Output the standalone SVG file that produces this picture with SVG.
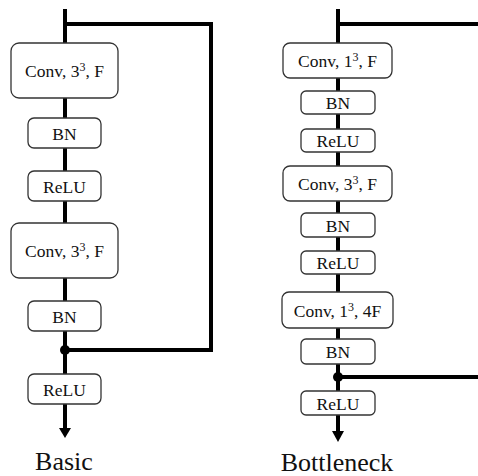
<svg xmlns="http://www.w3.org/2000/svg" width="478" height="476" viewBox="0 0 478 476">
<style>
.box{fill:#fff;stroke:#333;stroke-width:1.3}
.wire{fill:none;stroke:#000;stroke-width:4}
.lbl{font-family:"Liberation Serif","Times New Roman",serif;font-size:17.5px;fill:#111;text-anchor:middle}
.title{font-family:"Liberation Serif","Times New Roman",serif;font-size:26px;fill:#111;text-anchor:middle}
.sup{font-size:12px}
</style>
<rect width="478" height="476" fill="#fff"/>
<g id="connectors">
  <path class="wire" d="M65,9 V431"/>
  <path class="wire" d="M65,24 H211 V350 H65"/>
  <polygon points="59,428 71,428 65,438" fill="#000"/>
  <circle cx="65" cy="350" r="5" fill="#000"/>
  <path class="wire" d="M338,9 V433"/>
  <path class="wire" d="M338,24 H480"/>
  <path class="wire" d="M338,377 H480"/>
  <polygon points="332,431 344,431 338,442" fill="#000"/>
  <circle cx="338" cy="377" r="5" fill="#000"/>
</g>
<g id="basic-conv1"><rect class="box" x="11" y="43" width="107" height="55" rx="8"/><text class="lbl" x="64.5" y="77">Conv, 3<tspan class="sup" dy="-6">3</tspan><tspan dy="6">, F</tspan></text></g>
<g id="basic-bn1"><rect class="box" x="28" y="118" width="73" height="30" rx="6"/><text class="lbl" x="64.5" y="139.5">BN</text></g>
<g id="basic-relu1"><rect class="box" x="28" y="171" width="73" height="30" rx="6"/><text class="lbl" x="64.5" y="192.5">ReLU</text></g>
<g id="basic-conv2"><rect class="box" x="11" y="223" width="107" height="55" rx="8"/><text class="lbl" x="64.5" y="257">Conv, 3<tspan class="sup" dy="-6">3</tspan><tspan dy="6">, F</tspan></text></g>
<g id="basic-bn2"><rect class="box" x="28" y="301" width="73" height="30" rx="6"/><text class="lbl" x="64.5" y="322.5">BN</text></g>
<g id="basic-relu2"><rect class="box" x="28" y="374" width="73" height="30" rx="6"/><text class="lbl" x="64.5" y="395.5">ReLU</text></g>
<g id="basic-title"><text class="title" x="64" y="470">Basic</text></g>

<g id="bn-conv1"><rect class="box" x="283" y="43" width="109" height="35" rx="7"/><text class="lbl" x="337.5" y="67">Conv, 1<tspan class="sup" dy="-6">3</tspan><tspan dy="6">, F</tspan></text></g>
<g id="bn-bn1"><rect class="box" x="301" y="91" width="74" height="23" rx="5"/><text class="lbl" x="338" y="108.5">BN</text></g>
<g id="bn-relu1"><rect class="box" x="301" y="129" width="74" height="23" rx="5"/><text class="lbl" x="338" y="146.5">ReLU</text></g>
<g id="bn-conv2"><rect class="box" x="283" y="166" width="109" height="35" rx="7"/><text class="lbl" x="337.5" y="190">Conv, 3<tspan class="sup" dy="-6">3</tspan><tspan dy="6">, F</tspan></text></g>
<g id="bn-bn2"><rect class="box" x="301" y="213" width="74" height="24" rx="5"/><text class="lbl" x="338" y="231.5">BN</text></g>
<g id="bn-relu2"><rect class="box" x="301" y="251" width="74" height="23" rx="5"/><text class="lbl" x="338" y="268.5">ReLU</text></g>
<g id="bn-conv3"><rect class="box" x="282" y="292" width="111" height="36" rx="7"/><text class="lbl" x="337.5" y="316.5">Conv, 1<tspan class="sup" dy="-6">3</tspan><tspan dy="6">, 4F</tspan></text></g>
<g id="bn-bn3"><rect class="box" x="301" y="339" width="74" height="25" rx="5"/><text class="lbl" x="338" y="358">BN</text></g>
<g id="bn-relu3"><rect class="box" x="301" y="391" width="74" height="24" rx="5"/><text class="lbl" x="338" y="409.5">ReLU</text></g>
<g id="bn-title"><text class="title" x="337" y="471">Bottleneck</text></g>
</svg>
